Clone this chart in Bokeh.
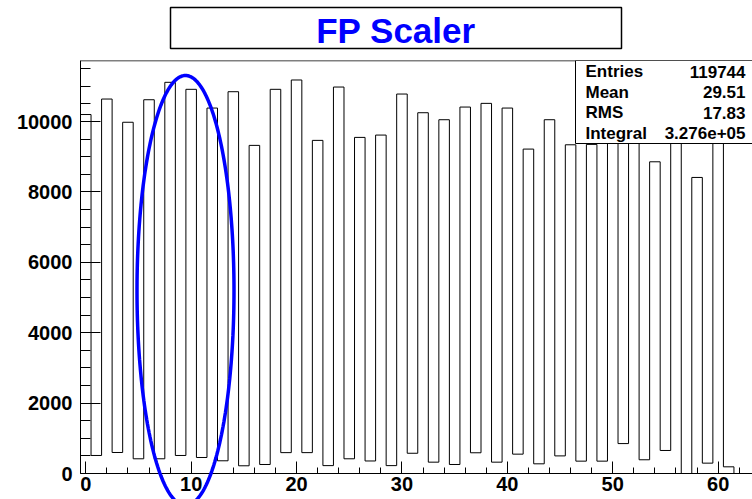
import numpy as np
from bokeh.plotting import figure
from bokeh.models import Range1d, SingleIntervalTicker, BoxAnnotation, PolyAnnotation, Label, Span
from bokeh.layouts import column
from bokeh.core.properties import value
from bokeh.embed import file_html
from bokeh.resources import INLINE

# ---------------- data ----------------
TITLE = "FP Scaler"
BIN_CENTERS = list(range(64))
COUNTS = [10200, 512, 10640, 597, 9980, 418, 10620, 418, 11115, 512,
          10916, 455, 10384, 361, 10848, 219, 9323, 256, 10916, 593,
          11181, 593, 9465, 224, 10981, 418, 9550, 356, 9616, 224,
          10782, 575, 10251, 322, 10052, 256, 10412, 589, 10517, 322,
          10384, 550, 9218, 275, 10052, 500, 9340, 351, 9351, 351,
          10100, 850, 10300, 390, 8857, 654, 10500, 0, 8412, 294,
          10712, 190, 0, 0]
STAT_NAMES = ["Entries", "Mean", "RMS", "Integral"]
STAT_VALUES = ["119744", "29.51", "17.83", "3.276e+05"]

X_START, X_END = -0.5, 63.26
Y_START, Y_END = 0, 11735

FONT = "Liberation Sans"
W = 752
FRAME_LEFT = 80
# frame: x 80..752 ; histogram area y 60..473 ; label strip below down to 499
FX0, FX1, FY0, FY1, CANVAS_BOTTOM = FRAME_LEFT, W, 60, 473, 499
UNITS_PER_PX_Y = (Y_END - Y_START) / (FY1 - FY0)
UNITS_PER_PX_X = (X_END - X_START) / (FX1 - FX0)
Y_VIEW_START = Y_START - (CANVAS_BOTTOM - FY1) * UNITS_PER_PX_Y

def px_x(px):
    return X_START + (px - FX0) * UNITS_PER_PX_X
def px_y(py):
    return Y_START + (FY1 - py) * UNITS_PER_PX_Y

def header_fig(h, y_top, bg):
    f = figure(width=W, height=h, x_range=Range1d(FRAME_LEFT, W),
               y_range=Range1d(y_top + h, y_top), output_backend="svg",
               toolbar_location=None, min_border_left=FRAME_LEFT,
               min_border_right=0, min_border_top=0, min_border_bottom=0,
               x_axis_type=None, y_axis_type=None)
    f.outline_line_color = None
    f.background_fill_color = bg
    f.border_fill_color = bg
    return f

# ---------------- thin grey strip on top ----------------
s = header_fig(5, 0, "#ececec")
s.quad(left=733, right=738, top=0, bottom=3, fill_color="red", line_color=None)

# ---------------- title box ----------------
t = header_fig(53, 5, "white")
t.quad(left=170, right=621, top=7, bottom=48, fill_color="white",
       line_color="black", line_width=1.5)
t.text(x=[395.5], y=[29.5], text=[TITLE], text_font=value(FONT),
       text_font_style="bold", text_font_size="35px", text_color="#0000ff",
       text_align="center", text_baseline="middle")

# ---------------- main histogram ----------------
p = figure(width=W, height=441, x_range=Range1d(X_START, X_END),
           y_range=Range1d(Y_VIEW_START, Y_END), output_backend="svg",
           toolbar_location=None, min_border_left=FRAME_LEFT, min_border_right=0,
           min_border_top=2, min_border_bottom=0)
p.xgrid.visible = False
p.ygrid.visible = False
p.outline_line_color = None
p.background_fill_color = "white"
p.border_fill_color = "white"

xs = [BIN_CENTERS[0] - 0.5]
ys = [0]
for c, v in zip(BIN_CENTERS, COUNTS):
    xs += [c - 0.5, c + 0.5]
    ys += [v, v]
xs.append(BIN_CENTERS[-1] + 0.5)
ys.append(0)
p.line(xs, ys, line_color="black", line_width=1)

p.xaxis.ticker = SingleIntervalTicker(interval=10, num_minor_ticks=5)
p.yaxis.ticker = SingleIntervalTicker(interval=2000, num_minor_ticks=4)
p.xaxis.fixed_location = 0
p.yaxis.bounds = (Y_START, Y_END)
for ax in (p.xaxis[0], p.yaxis[0]):
    ax.axis_line_color = "black"
    ax.major_tick_line_color = "black"
    ax.minor_tick_line_color = "black"
    ax.major_tick_out = 0
    ax.minor_tick_out = 0
    ax.major_label_text_font = FONT
    ax.major_label_text_font_style = "bold"
    ax.major_label_text_font_size = "20px"
    ax.major_label_text_color = "black"
p.xaxis.major_tick_in = 12
p.xaxis.minor_tick_in = 6
p.xaxis.major_label_standoff = 3
p.yaxis.major_tick_in = 20
p.yaxis.minor_tick_in = 10
p.yaxis.major_label_standoff = 8

# top border of the frame
p.add_layout(Span(location=Y_END, dimension="width", line_color="black", line_width=1.5))

# stats box
p.add_layout(BoxAnnotation(left=px_x(575), bottom=px_y(143), fill_color="white",
                           fill_alpha=1, line_color="black", line_width=1,
                           line_alpha=1))
row_centers = [71.4, 91.7, 112.2, 132.8]
for name, val, yc in zip(STAT_NAMES, STAT_VALUES, row_centers):
    p.add_layout(Label(x=px_x(585), y=px_y(yc), text=name, text_font=FONT,
                       text_font_style="bold", text_font_size="17px",
                       text_align="left", text_baseline="middle",
                       text_color="black"))
    p.add_layout(Label(x=px_x(745), y=px_y(yc), text=val, text_font=FONT,
                       text_font_style="bold", text_font_size="17px",
                       text_align="right", text_baseline="middle",
                       text_color="black"))

# hand-drawn blue ellipse highlight
ECX, ECY = px_x(185), px_y(290)
EW = 97 * UNITS_PER_PX_X
EH = 430 * UNITS_PER_PX_Y
theta = np.linspace(0, 2 * np.pi, 240)
ex = (ECX + EW / 2 * np.cos(theta)).tolist()
ey = (ECY + EH / 2 * np.sin(theta)).tolist()
p.add_layout(PolyAnnotation(xs=ex, ys=ey, line_color="#0000ff", line_width=3.5,
                            fill_alpha=0, line_alpha=1))

layout = column(s, t, p)
open("out.html", "w").write(file_html(layout, INLINE))
